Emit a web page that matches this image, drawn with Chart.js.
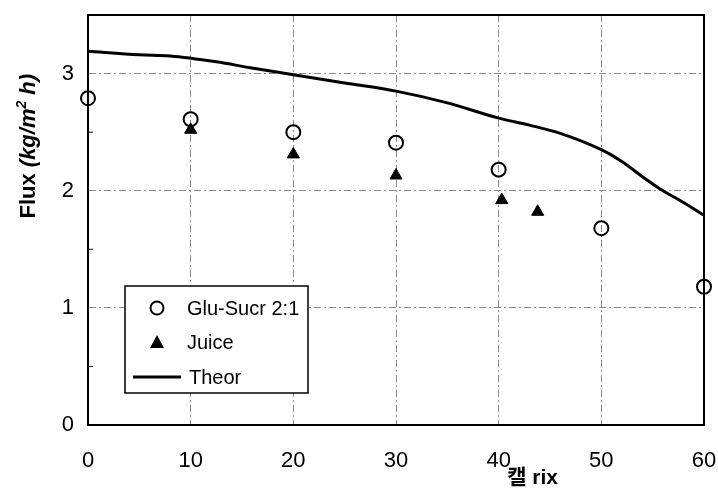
<!DOCTYPE html>
<html>
<head>
<meta charset="utf-8">
<script src="https://cdn.jsdelivr.net/npm/chart.js@4"></script>
<style>
  html, body { margin: 0; padding: 0; background: #fff; }
  #wrap { width: 718px; height: 489px; }
</style>
</head>
<body>
<div id="wrap"><canvas id="fluxChart"></canvas></div>
<script>
// values
const gluX = [0, 10, 20, 30, 40, 50, 60];
const gluY = [2.79, 2.61, 2.50, 2.41, 2.18, 1.68, 1.18];
const juiceX = [10, 20, 30, 40.3, 43.8];
const juiceY = [2.52, 2.31, 2.13, 1.92, 1.82];
const theorX = [0, 5, 8, 12.5, 15.8, 20, 25, 30, 35, 40, 43, 46, 50, 52, 54, 56, 58, 60];
const theorY = [3.19, 3.16, 3.15, 3.10, 3.05, 2.99, 2.92, 2.85, 2.75, 2.62, 2.56, 2.49, 2.35, 2.25, 2.12, 2.00, 1.90, 1.79];
const seriesNames = ['Glu-Sucr 2:1', 'Juice', 'Theor'];
const xTitle = '캘 rix';
// y title pieces: plain, italic unit, superscript, italic tail
const yTitleParts = ['Flux ', '(kg/m', '2', ' h)'];

const toPoints = (xs, ys) => xs.map((x, i) => ({ x: x, y: ys[i] }));

// frame on top and right, like the original plot box
const framePlugin = {
    id: 'frame',
    afterDatasetsDraw(chart) {
        const { ctx, chartArea } = chart;
        ctx.save();
        ctx.strokeStyle = '#000';
        ctx.lineWidth = 2;
        ctx.setLineDash([]);
        ctx.strokeRect(chartArea.left, chartArea.top, chartArea.right - chartArea.left, chartArea.bottom - chartArea.top);
        // small inner ticks at the half units on the y axis
        const yScale = chart.scales.y;
        ctx.lineWidth = 1;
        for (let v = 0.5; v < 3.5; v += 1) {
            const py = yScale.getPixelForValue(v);
            ctx.beginPath();
            ctx.moveTo(chartArea.left, py);
            ctx.lineTo(chartArea.left + 5, py);
            ctx.stroke();
        }
        ctx.restore();
    }
};

// axis titles: x sits right of centre, y sits high with an italic unit
const titlePlugin = {
    id: 'axisTitles',
    afterDraw(chart) {
        const { ctx } = chart;
        const px = chart.scales.x.getPixelForValue(43.3);
        ctx.save();
        ctx.fillStyle = '#000';
        ctx.font = 'bold 21px "Liberation Sans", "Noto Sans CJK KR", sans-serif';
        ctx.textAlign = 'center';
        ctx.textBaseline = 'middle';
        ctx.fillText(xTitle, px, 478);

        const fam = '"Liberation Sans", Arial, sans-serif';
        const fonts = ['bold 22px ' + fam, 'italic bold 22px ' + fam, 'italic bold 14px ' + fam, 'italic bold 22px ' + fam];
        const widths = yTitleParts.map((t, i) => { ctx.font = fonts[i]; return ctx.measureText(t).width; });
        const total = widths.reduce((a, b) => a + b, 0);
        const cy = chart.scales.y.getPixelForValue(2.38);
        ctx.translate(35, cy);
        ctx.rotate(-Math.PI / 2);
        ctx.textAlign = 'left';
        ctx.textBaseline = 'alphabetic';
        let cx = -total / 2;
        yTitleParts.forEach((t, i) => {
            ctx.font = fonts[i];
            ctx.fillText(t, cx, i === 2 ? -9 : 0);
            cx += widths[i];
        });
        ctx.restore();
    }
};

// boxed legend inside the plot area
const legendPlugin = {
    id: 'boxLegend',
    afterDraw(chart) {
        const { ctx, chartArea } = chart;
        const left = chartArea.left + 37;
        const top = chartArea.top + 271;
        const w = 183, h = 107;
        ctx.save();
        ctx.fillStyle = '#fff';
        ctx.fillRect(left, top, w, h);
        ctx.strokeStyle = '#000';
        ctx.lineWidth = 1.5;
        ctx.strokeRect(left, top, w, h);
        ctx.font = '20px "Liberation Sans", Arial, sans-serif';
        ctx.textBaseline = 'middle';
        ctx.fillStyle = '#000';
        const rows = [top + 22, top + 56, top + 91];
        const mx = left + 32;
        // circle
        ctx.lineWidth = 2;
        ctx.beginPath();
        ctx.arc(mx, rows[0], 6.5, 0, Math.PI * 2);
        ctx.stroke();
        ctx.fillText(seriesNames[0], left + 62, rows[0] + 1);
        // triangle
        ctx.beginPath();
        ctx.moveTo(mx, rows[1] - 7);
        ctx.lineTo(mx + 7, rows[1] + 6);
        ctx.lineTo(mx - 7, rows[1] + 6);
        ctx.closePath();
        ctx.fill();
        ctx.fillText(seriesNames[1], left + 62, rows[1] + 1);
        // line
        ctx.lineWidth = 3;
        ctx.beginPath();
        ctx.moveTo(left + 8, rows[2]);
        ctx.lineTo(left + 56, rows[2]);
        ctx.stroke();
        ctx.fillText(seriesNames[2], left + 64, rows[2] + 1);
        ctx.restore();
    }
};

const gridDash = [7, 3, 2, 3];

const ctx = document.getElementById('fluxChart').getContext('2d');
const fluxChart = new Chart(ctx, {
    type: 'scatter',
    data: {
        datasets: [{
            label: seriesNames[2],
            data: toPoints(theorX, theorY),
            showLine: true,
            borderColor: '#000',
            borderWidth: 3,
            pointRadius: 0,
            cubicInterpolationMode: 'monotone',
            clip: false
        }, {
            label: seriesNames[1],
            data: toPoints(juiceX, juiceY),
            pointStyle: 'triangle',
            pointRadius: 7,
            backgroundColor: '#000',
            borderColor: '#000',
            borderWidth: 1,
            clip: false
        }, {
            label: seriesNames[0],
            data: toPoints(gluX, gluY),
            pointStyle: 'circle',
            pointRadius: 7,
            backgroundColor: 'rgba(0,0,0,0)',
            borderColor: '#000',
            borderWidth: 2,
            clip: false
        }]
    },
    options: {
        responsive: true,
        maintainAspectRatio: false,
        animation: false,
        layout: { padding: { top: 15, right: 14, left: 0, bottom: 0 } },
        plugins: {
            legend: { display: false },
            tooltip: { enabled: false }
        },
        scales: {
            x: {
                type: 'linear',
                min: 0,
                max: 60,
                ticks: {
                    stepSize: 10,
                    color: '#000',
                    padding: 23,
                    font: { family: '"Liberation Sans", Arial, sans-serif', size: 22 },
                    maxRotation: 0
                },
                grid: {
                    color: (c) => (c.tick && (c.tick.value === 0 || c.tick.value === 60)) ? 'rgba(0,0,0,0)' : '#8a8a8a',
                    lineWidth: 1,
                    drawTicks: false
                },
                border: { color: '#000', width: 2, dash: gridDash },
                afterFit(scale) {
                    scale.height = 64;
                    scale.paddingLeft = 0;
                    scale.paddingRight = 0;
                }
            },
            y: {
                min: 0,
                max: 3.5,
                ticks: {
                    stepSize: 0.5,
                    color: '#000',
                    padding: 14,
                    font: { family: '"Liberation Sans", Arial, sans-serif', size: 22 },
                    callback: (v) => Number.isInteger(v) ? String(v) : ''
                },
                grid: {
                    color: (c) => (c.tick && Number.isInteger(c.tick.value) && c.tick.value > 0) ? '#8a8a8a' : 'rgba(0,0,0,0)',
                    lineWidth: 1,
                    drawTicks: false
                },
                border: { color: '#000', width: 2, dash: gridDash },
                afterFit(scale) {
                    scale.width = 88;
                    scale.paddingTop = 0;
                    scale.paddingBottom = 0;
                }
            }
        }
    },
    plugins: [framePlugin, titlePlugin, legendPlugin]
});
</script>
</body>
</html>
